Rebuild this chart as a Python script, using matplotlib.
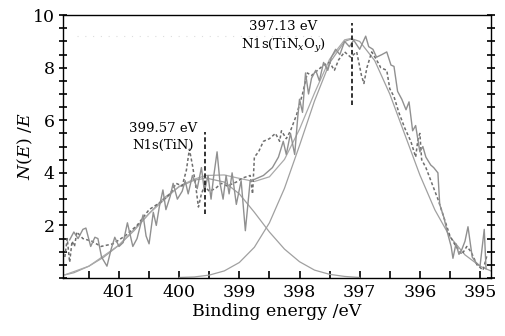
import matplotlib
matplotlib.use("Agg")
import matplotlib.pyplot as plt
from matplotlib.ticker import MultipleLocator, FixedLocator

plt.rcParams['font.family'] = ['DejaVu Serif']
plt.rcParams['mathtext.fontset'] = 'dejavuserif'

# -----------------------
# DATA
# -----------------------
# raw spectrum (solid jagged line)
raw_x = [401.82, 401.75, 401.68, 401.6, 401.55, 401.47, 401.4, 401.35, 401.29, 401.2,
         401.13, 401.07, 401.0, 400.93, 400.86, 400.8, 400.77, 400.7, 400.6, 400.55,
         400.5, 400.43, 400.38, 400.33, 400.27, 400.22, 400.15, 400.1, 400.03, 399.95,
         399.9, 399.85, 399.78, 399.7, 399.63, 399.58, 399.52, 399.47, 399.43, 399.37,
         399.32, 399.27, 399.22, 399.17, 399.12, 399.05, 398.97, 398.9, 398.82, 398.75,
         398.6, 398.45, 398.35, 398.27, 398.22, 398.15, 398.08, 398.03, 398.0, 397.95,
         397.9, 397.85, 397.8, 397.73, 397.67, 397.6, 397.53, 397.47, 397.4, 397.33,
         397.25, 397.17, 397.1, 397.0, 396.9, 396.85, 396.78, 396.72, 396.63, 396.55,
         396.48, 396.43, 396.37, 396.3, 396.23, 396.18, 396.12, 396.07, 396.0, 395.95,
         395.9, 395.82, 395.77, 395.7, 395.67, 395.6, 395.55, 395.48, 395.45, 395.4,
         395.35, 395.3, 395.25, 395.2, 395.13, 395.07, 395.0, 394.93, 394.9]
raw_y = [1.45, 1.75, 1.5, 1.85, 1.9, 1.2, 1.55, 1.5, 0.8, 0.45,
         1.1, 1.55, 1.2, 1.35, 2.1, 1.5, 1.2, 1.5, 2.4, 1.6,
         1.3, 2.5, 2.0, 2.7, 3.35, 2.6, 3.1, 3.6, 3.0, 3.3,
         3.7, 3.2, 3.9, 3.4, 4.2, 3.3, 3.9, 3.0, 3.8, 4.8,
         3.6, 3.0, 3.9, 3.2, 4.0, 2.8, 3.7, 1.8, 3.7, 3.75,
         3.9, 4.2, 4.6, 5.2, 4.7, 5.5, 4.7, 6.1, 6.8, 6.3,
         7.8, 7.0, 7.6, 7.9, 7.5, 8.2, 7.9, 8.4, 8.7, 8.5,
         9.0, 8.8, 9.05, 8.7, 9.2, 8.8, 8.7, 8.4, 8.5, 8.6,
         8.1, 8.05, 7.1, 6.8, 6.4, 6.7, 5.6, 5.8, 4.8, 5.0,
         4.6, 4.3, 4.2, 4.0, 2.8, 2.3, 1.8, 1.2, 0.75, 1.3,
         0.9, 1.1, 1.4, 1.95, 0.8, 0.6, 0.45, 1.85, 0.35]

# second spectrum (dashed line)
dash_x = [401.9, 401.86, 401.82, 401.78, 401.74, 401.7, 401.6, 401.45, 401.3, 401.1,
          400.9, 400.7, 400.5, 400.3, 400.15, 400.05, 399.95, 399.88, 399.83, 399.78,
          399.73, 399.68, 399.63, 399.58, 399.5, 399.4, 399.3, 399.2, 399.05, 398.95,
          398.82, 398.78, 398.75, 398.68, 398.6, 398.5, 398.4, 398.33, 398.3, 398.22,
          398.15, 398.05, 397.95, 397.87, 397.8, 397.7, 397.6, 397.5, 397.42, 397.35,
          397.25, 397.15, 397.05, 396.97, 396.93, 396.88, 396.8, 396.72, 396.65, 396.55,
          396.5, 396.43, 396.35, 396.25, 396.15, 396.07, 396.03, 396.0, 395.97, 395.9,
          395.8, 395.7, 395.6, 395.5, 395.4, 395.3, 395.22, 395.15, 395.05, 394.95, 394.88]
dash_y = [0.8, 1.5, 0.6, 1.4, 1.2, 1.75, 1.5, 1.4, 1.2, 1.3,
          1.6, 2.0, 2.6, 2.9, 3.2, 3.6, 3.5, 4.1, 4.9, 4.3,
          3.6, 2.7, 3.2, 3.5, 3.3, 3.4, 3.6, 3.5, 3.65, 3.8,
          3.9, 3.2, 4.6, 4.8, 5.2, 5.3, 5.5, 5.2, 5.6, 5.3,
          5.6, 6.2, 7.0, 7.8, 7.7, 7.9, 8.1, 8.2, 7.9, 8.3,
          8.6, 8.4, 8.6, 7.7, 7.4, 8.0, 8.6, 8.3, 8.0, 7.9,
          7.2, 6.9, 6.3, 5.7, 5.2, 4.6, 5.3, 5.5, 4.5, 4.2,
          3.6, 3.0, 2.3, 1.6, 1.2, 0.9, 1.2, 1.0, 0.5, 0.3, 0.9]

# fitted component N1s(TiN)
tin_x = [401.9, 401.75, 401.5, 401.25, 401.0, 400.75, 400.5, 400.25, 400.0, 399.75,
         399.55, 399.25, 399.0, 398.75, 398.5, 398.25, 398.0, 397.75, 397.5, 397.25, 397.0]
tin_y = [0.12, 0.2, 0.45, 0.8, 1.25, 1.8, 2.45, 3.05, 3.47, 3.72,
         3.8, 3.65, 3.2, 2.5, 1.75, 1.1, 0.62, 0.3, 0.14, 0.06, 0.02]

# fitted component N1s(TiNxOy)
tino_x = [400.0, 399.75, 399.5, 399.25, 399.0, 398.75, 398.5, 398.25, 398.0, 397.75,
          397.5, 397.25, 397.13, 397.0, 396.75, 396.5, 396.25, 396.0, 395.75, 395.5,
          395.25, 395.0, 394.82]
tino_y = [0.02, 0.04, 0.11, 0.27, 0.59, 1.17, 2.1, 3.41, 5.04, 6.74,
          8.18, 9.0, 9.1, 9.0, 8.27, 7.0, 5.46, 3.92, 2.59, 1.57,
          0.88, 0.45, 0.27]

# envelope (sum of fit)
env_x = [401.9, 401.5, 401.0, 400.5, 400.0, 399.75, 399.55, 399.25, 399.0, 398.75,
         398.5, 398.25, 398.0, 397.75, 397.5, 397.25, 397.13]
env_y = [0.12, 0.45, 1.25, 2.45, 3.49, 3.76, 3.9, 3.92, 3.79, 3.67,
         3.85, 4.51, 5.66, 7.04, 8.32, 9.06, 9.12]

peak_pos = [399.57, 397.13]
peak_lines = [(2.45, 5.55), (6.6, 9.7)]
peak_labels = ['399.57 eV\nN1s(TiN)', '397.13 eV\nN1s(TiN$_x$O$_y$)']

# -----------------------
# PLOT
# -----------------------
fig = plt.figure(figsize=(5.05, 3.36), dpi=100)
ax = fig.add_axes([0.1248, 0.1726, 0.8472, 0.7824])

ax.plot(tin_x, tin_y, color='#a0a0a0', lw=0.9)
ax.plot(tino_x, tino_y, color='#a0a0a0', lw=0.9)
ax.plot(env_x, env_y, color='#aaaaaa', lw=0.9)
ax.plot(dash_x, dash_y, color='#6e6e6e', lw=1.1, ls=(0, (2, 1.5)))
ax.plot(raw_x, raw_y, color='#909090', lw=1.0)

# faint dotted baseline near the top
ax.plot([401.7, 397.6], [9.2, 9.2], color='#dddddd', lw=0.8, ls=(0, (1, 6)))

for xp, (y0, y1) in zip(peak_pos, peak_lines):
    ax.plot([xp, xp], [y0, y1], color='#222222', lw=1.3, ls=(0, (2.5, 1.5)))

ax.text(400.27, 5.36, peak_labels[0], fontsize=9.5, ha='center', va='center',
        linespacing=1.35)
ax.text(398.27, 9.15, peak_labels[1], fontsize=9.5, ha='center', va='center',
        linespacing=1.35)

ax.set_xlim(401.93, 394.82)
ax.set_ylim(0, 10)

ax.xaxis.set_major_locator(FixedLocator([401, 400, 399, 398, 397, 396, 395]))
ax.xaxis.set_minor_locator(MultipleLocator(0.5))
ax.yaxis.set_major_locator(FixedLocator([2, 4, 6, 8, 10]))
ax.yaxis.set_minor_locator(MultipleLocator(0.5))

ax.tick_params(axis='x', which='both', direction='in', length=5, width=1.2,
               top=False, labelsize=12.5, pad=4)
ax.tick_params(axis='y', which='both', direction='inout', length=6, width=1.2,
               left=True, right=True, labelsize=12.5, pad=3)

for sp in ax.spines.values():
    sp.set_linewidth(1.0)

ax.set_xlabel('Binding energy /eV', fontsize=12.5, labelpad=2)
ax.set_ylabel('$N(E)$ /$E$', fontsize=12.5, labelpad=-1.5)

fig.savefig('out.png', dpi=100)
